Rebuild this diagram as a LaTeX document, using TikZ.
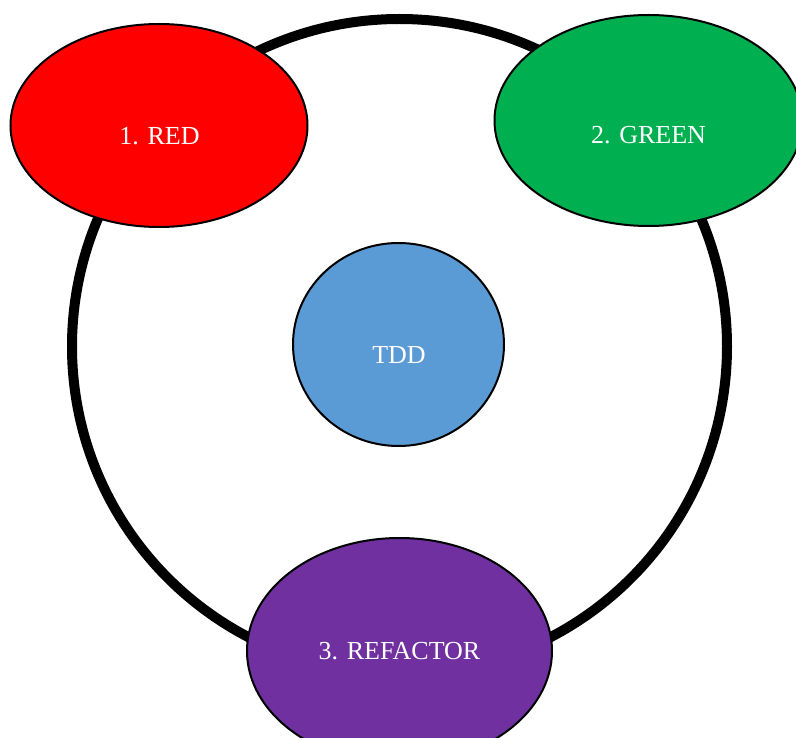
\documentclass[tikz,border=0pt]{standalone}
\usepackage{fontspec}
\setmainfont{Liberation Serif}
\usetikzlibrary{shapes.geometric}
\definecolor{stepred}{HTML}{FF0000}
\definecolor{stepgreen}{HTML}{00AF50}
\definecolor{stepblue}{HTML}{5B9BD5}
\definecolor{steppurple}{HTML}{7030A0}
\begin{document}
\begin{tikzpicture}[x=1pt,y=-1pt,
  phase/.style={ellipse, draw=black, line width=2pt, inner sep=0pt, outer sep=0pt},
  phaselabel/.style={text=white, font=\fontsize{26}{30}\selectfont, inner sep=0pt}]
  \useasboundingbox (0,0) rectangle (796,738);
  % the loop ring
  \node[circle, draw=black, line width=10pt, minimum size=655pt, inner sep=0pt] (ring) at (399.5,346.5) {};
  % the three phases and the hub
  \node[phase, fill=stepred, minimum width=297pt, minimum height=203pt] (red) at (159,125.5) {};
  \node[phase, fill=stepgreen, minimum width=308pt, minimum height=211pt] (green) at (648.5,120.5) {};
  \node[phase, fill=steppurple, minimum width=305pt, minimum height=226pt] (refactor) at (399.5,651) {};
  \node[phase, fill=stepblue, minimum width=211pt, minimum height=203pt] (tdd) at (398.5,344.5) {};
  % labels
  \node[phaselabel] (redlabel) at (159.5,136) {1. RED};
  \node[phaselabel] (greenlabel) at (648.5,135.5) {2. GREEN};
  \node[phaselabel] (tddlabel) at (399,355.5) {TDD};
  \node[phaselabel] (refactorlabel) at (399.5,651.5) {3. REFACTOR};
\end{tikzpicture}
\end{document}
